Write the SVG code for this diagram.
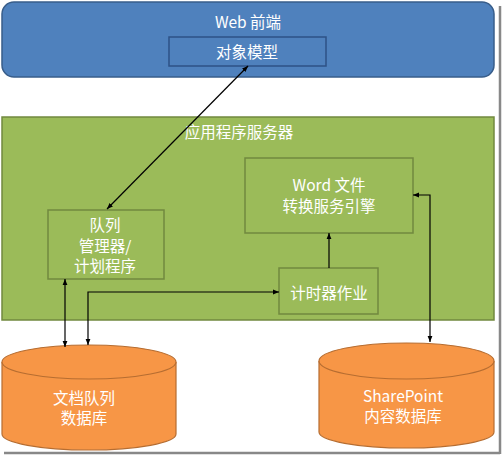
<svg xmlns="http://www.w3.org/2000/svg" width="504" height="456" viewBox="0 0 504 456">
<style>
text{font-family:"Microsoft YaHei","Noto Sans CJK SC","Liberation Sans",sans-serif;font-size:15.5px;fill:#fff;text-anchor:middle;dominant-baseline:central}
.g{fill:#9BBB59;stroke:#71893F;stroke-width:1.5}
.o{fill:#F79646;stroke:#B66D31;stroke-width:1.2}
.c{fill:none;stroke:#000;stroke-width:1.2}
</style>
<defs>
<marker id="a" viewBox="0 0 10 10" refX="10" refY="5" markerWidth="6" markerHeight="6" orient="auto-start-reverse" markerUnits="userSpaceOnUse">
<path d="M0,1 L10,5 L0,9 z" fill="#000"/>
</marker>
</defs>
<rect width="504" height="456" fill="#fff"/>
<g id="frame">
<line x1="500" y1="6" x2="500" y2="454" stroke="#888" stroke-width="2.5"/>
<line x1="4" y1="453" x2="500" y2="453" stroke="#888" stroke-width="2.5"/>
</g>
<g id="web">
<rect x="2" y="2" width="492" height="75" rx="12" fill="#4F81BD" stroke="#385D8A" stroke-width="1.5"/>
<text x="248" y="21">Web 前端</text>
</g>
<g id="objmodel">
<rect x="169" y="37" width="157" height="29" fill="#4F81BD" stroke="#2E5286" stroke-width="1.5"/>
<text x="247" y="51">对象模型</text>
</g>
<g id="appserver">
<rect x="2" y="117" width="492" height="203" class="g"/>
<text x="239" y="131">应用程序服务器</text>
</g>
<g id="word">
<rect x="245" y="158" width="168" height="75" class="g"/>
<text x="329" y="184">Word 文件</text>
<text x="329" y="205">转换服务引擎</text>
</g>
<g id="queue">
<rect x="48" y="210" width="116" height="69" class="g"/>
<text x="105" y="224">队列</text>
<text x="105" y="245">管理器/</text>
<text x="105" y="265">计划程序</text>
</g>
<g id="timer">
<rect x="279" y="268" width="99" height="46" class="g"/>
<text x="329" y="292">计时器作业</text>
</g>
<g id="docdb">
<path d="M2,362 L2,434 A87,16 0 0 0 176,434 L176,362" class="o"/>
<ellipse cx="89" cy="362" rx="87" ry="17" class="o"/>
<text x="84" y="397">文档队列</text>
<text x="84" y="417">数据库</text>
</g>
<g id="spdb">
<path d="M319,361 L319,432 A87.5,16 0 0 0 494,432 L494,361" class="o"/>
<ellipse cx="406.5" cy="361" rx="87.5" ry="18" class="o"/>
<text x="403" y="395">SharePoint</text>
<text x="403" y="415">内容数据库</text>
</g>
<g id="connectors">
<line x1="248" y1="66" x2="107" y2="209" class="c" marker-start="url(#a)" marker-end="url(#a)"/>
<line x1="329" y1="268" x2="329" y2="233" class="c" marker-end="url(#a)"/>
<line x1="65" y1="279" x2="65" y2="347" class="c" marker-start="url(#a)" marker-end="url(#a)"/>
<polyline points="88,345 88,292 279,292" class="c" marker-start="url(#a)" marker-end="url(#a)"/>
<polyline points="413,195 430,195 430,342" class="c" marker-start="url(#a)" marker-end="url(#a)"/>
</g>
</svg>
